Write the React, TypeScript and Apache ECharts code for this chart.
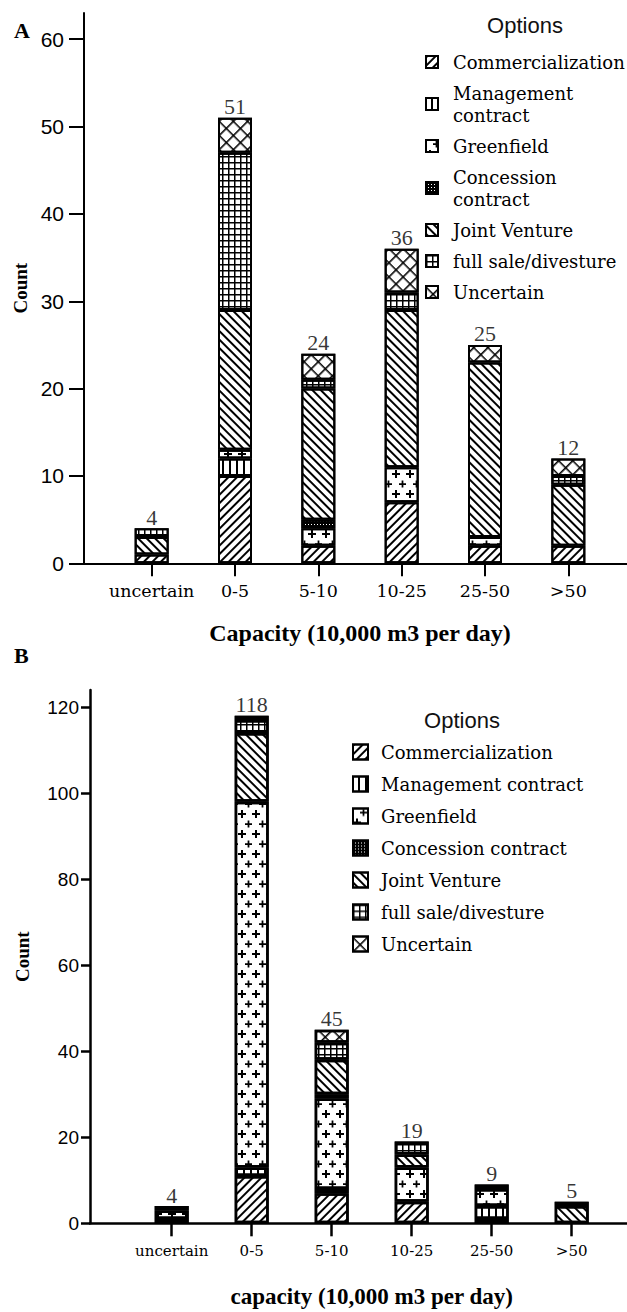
import React, { useEffect, useRef } from 'react';
import * as echarts from 'echarts';

// ---------- data ----------
const categories = ['uncertain', '0-5', '5-10', '10-25', '25-50', '>50'];
const optionNames = [
  'Commercialization',
  'Management contract',
  'Greenfield',
  'Concession contract',
  'Joint Venture',
  'full sale/divesture',
  'Uncertain',
];

// Panel A
const aCommercialization = [1, 10, 2, 7, 2, 2];
const aManagement = [0, 2, 0, 0, 0, 0];
const aGreenfield = [0, 1, 2, 4, 1, 0];
const aConcession = [0, 0, 1, 0, 0, 0];
const aJointVenture = [2, 16, 15, 18, 20, 7];
const aFullSale = [1, 18, 1, 2, 0, 1];
const aUncertain = [0, 4, 3, 5, 2, 2];
const aTotals = [4, 51, 24, 36, 25, 12];
const aYTicks = [0, 10, 20, 30, 40, 50, 60];

// Panel B
const bCommercialization = [1, 11, 7, 5, 1, 0];
const bManagement = [0, 2, 1, 0, 3, 0];
const bGreenfield = [2, 85, 21, 8, 4, 0];
const bConcession = [1, 0, 1, 0, 1, 0];
const bJointVenture = [0, 16, 8, 3, 0, 4];
const bFullSale = [0, 3, 4, 3, 0, 1];
const bUncertain = [0, 1, 3, 0, 0, 0];
const bTotals = [4, 118, 45, 19, 9, 5];
const bYTicks = [0, 20, 40, 60, 80, 100, 120];

// ---------- styles ----------
const SERIF = '"Liberation Serif", "Times New Roman", serif';
const DJ = '"DejaVu Serif", serif';
const SANS = '"Liberation Sans", Arial, sans-serif';
const INK = '#000';

const PLUS = 'path://M3 0H5V3H8V5H5V8H3V5H0V3H3Z';
const GRID6 = 'path://M0 0H6V1.5H0Z M0 0H1.5V6H0Z';
const GRID10 = 'path://M0 0H10V1.6H0Z M0 0H1.6V10H0Z';
const DOTS3 = 'path://M0 0H3V2H0Z M0 0H2V3H0Z';

const decals: any[] = [
  { symbol: 'rect', color: INK, dashArrayX: [1, 0], dashArrayY: [2, 4], rotation: -Math.PI / 4 },
  { symbol: 'rect', color: INK, dashArrayX: [1, 0], dashArrayY: [2, 5], rotation: Math.PI / 2 },
  { symbol: PLUS, color: INK, dashArrayX: [[8, 6], [0, 7, 7, 0]], dashArrayY: [8, 2] },
  { symbol: DOTS3, color: INK, dashArrayX: [3, 0], dashArrayY: [3, 0] },
  { symbol: 'rect', color: INK, dashArrayX: [1, 0], dashArrayY: [2, 4], rotation: Math.PI / 4 },
  { symbol: GRID6, color: INK, dashArrayX: [6, 0], dashArrayY: [6, 0] },
  { symbol: GRID10, color: INK, dashArrayX: [10, 0], dashArrayY: [10, 0], rotation: Math.PI / 4 },
];

function buildOption(cfg: any) {
  const L = cfg.layout;
  const series: any[] = optionNames.map((name, i) => ({
    name,
    type: 'bar',
    stack: 'total',
    xAxisIndex: 0,
    yAxisIndex: 0,
    barWidth: L.barWidth,
    data: cfg.values[i].map((v: number) => (v === 0 ? null : v)),
    itemStyle: { color: '#fff', borderColor: INK, borderWidth: L.border, decal: decals[i] },
    emphasis: { disabled: true },
  }));
  series.push({
    type: 'scatter',
    xAxisIndex: 0,
    yAxisIndex: 0,
    data: cfg.totals,
    symbolSize: 0,
    silent: true,
    z: 10,
    label: { show: true, position: 'top', distance: 0, color: INK, fontFamily: SERIF, fontSize: 22 },
  });

  const gridV = { top: L.top, height: L.height, outerBoundsMode: 'none', containLabel: false };
  return {
    animation: false,
    backgroundColor: 'transparent',
    grid: [
      { left: L.barLeft, width: L.barWidthTotal, ...gridV },
      { left: L.axisX, right: 0, ...gridV },
    ],
    xAxis: [
      {
        gridIndex: 0,
        type: 'category',
        data: categories,
        axisLine: { show: false },
        axisTick: { show: true, alignWithLabel: true, length: 13, lineStyle: { color: INK, width: L.axisW } },
        axisLabel: { interval: 0, margin: L.xLabelMargin, color: INK, fontFamily: DJ, fontSize: L.xLabelSize },
        splitLine: { show: false },
        name: cfg.xTitle,
        nameLocation: 'middle',
        nameGap: L.xNameGap,
        nameTextStyle: { color: INK, fontFamily: SERIF, fontWeight: 'bold', fontSize: L.xNameSize, verticalAlign: 'top' },
      },
      {
        gridIndex: 1,
        type: 'value',
        min: 0,
        max: 1,
        axisLine: { show: true, onZero: false, lineStyle: { color: INK, width: L.axisW } },
        axisTick: { show: false },
        axisLabel: { show: false },
        splitLine: { show: false },
      },
    ],
    yAxis: [
      { gridIndex: 0, type: 'value', min: 0, max: L.yMax, show: false, splitLine: { show: false } },
      {
        gridIndex: 1,
        type: 'value',
        min: 0,
        max: L.yMax,
        interval: cfg.yTicks[1] - cfg.yTicks[0],
        axisLine: { show: true, lineStyle: { color: INK, width: L.axisW } },
        axisTick: { show: true, length: L.yTickLen, customValues: cfg.yTicks, lineStyle: { color: INK, width: L.axisW } },
        axisLabel: { customValues: cfg.yTicks, margin: L.yLabelMargin, color: INK, fontFamily: SANS, fontSize: L.yLabelSize },
        splitLine: { show: false },
        name: 'Count',
        nameLocation: 'middle',
        nameGap: L.yNameGap,
        nameTextStyle: { color: INK, fontFamily: SERIF, fontWeight: 'bold', fontSize: 19 },
      },
    ],
    legend: {
      data: optionNames,
      orient: 'vertical',
      left: L.legendLeft,
      top: L.legendTop,
      padding: 0,
      itemWidth: L.icon,
      itemHeight: L.icon,
      itemGap: L.legendGap,
      icon: 'rect',
      selectedMode: false,
      formatter: cfg.legendFormatter,
      textStyle: { fontFamily: DJ, fontSize: 18, color: INK, lineHeight: 22, padding: [0, 0, 0, L.textPad] },
    },
    graphic: [
      { type: 'text', x: 14, y: L.letterY, style: { text: cfg.letter, font: `bold 22px ${SERIF}`, fill: INK, verticalAlign: 'middle' } },
      { type: 'text', x: L.optX, y: L.optY, style: { text: 'Options', font: `22px ${SANS}`, fill: '#111', align: 'center', verticalAlign: 'middle' } },
    ],
    series,
  };
}

const optA = () =>
  buildOption({
    letter: 'A',
    values: [aCommercialization, aManagement, aGreenfield, aConcession, aJointVenture, aFullSale, aUncertain],
    totals: aTotals,
    yTicks: aYTicks,
    xTitle: 'Capacity (10,000 m3 per day)',
    legendFormatter: (n: string) =>
      n === 'Management contract' ? 'Management\ncontract' : n === 'Concession contract' ? 'Concession\ncontract' : n,
    layout: {
      top: 13, height: 550.3, yMax: 63, barLeft: 110, barWidthTotal: 500, axisX: 84, barWidth: 34, border: 2,
      axisW: 2, xLabelMargin: 19, xLabelSize: 17.5, xNameGap: 58, xNameSize: 24, yTickLen: 15, yLabelMargin: 20, yLabelSize: 21,
      yNameGap: 52, legendLeft: 425, legendTop: 51, icon: 12, legendGap: 9, textPad: 10, letterY: 30, optX: 525, optY: 25,
    },
  });

// panel B is drawn in a box whose top is at page y = 640
const optB = () =>
  buildOption({
    letter: 'B',
    values: [bCommercialization, bManagement, bGreenfield, bConcession, bJointVenture, bFullSale, bUncertain],
    totals: bTotals,
    yTicks: bYTicks,
    xTitle: 'capacity (10,000 m3 per day)',
    legendFormatter: (n: string) => n,
    layout: {
      top: 50, height: 533.3, yMax: 124, barLeft: 131.7, barWidthTotal: 480, axisX: 90, barWidth: 34, border: 2.5,
      axisW: 2.5, xLabelMargin: 20, xLabelSize: 15, xNameGap: 62, xNameSize: 23, yTickLen: 9, yLabelMargin: 11, yLabelSize: 19,
      yNameGap: 58, legendLeft: 352, legendTop: 101, icon: 15, legendGap: 10, textPad: 8, letterY: 15, optX: 462, optY: 80,
    },
  });

export default function App() {
  const refA = useRef<HTMLDivElement>(null);
  const refB = useRef<HTMLDivElement>(null);
  useEffect(() => {
    const ca = echarts.init(refA.current!, undefined, { renderer: 'svg' });
    const cb = echarts.init(refB.current!, undefined, { renderer: 'svg' });
    ca.setOption(optA() as any);
    cb.setOption(optB() as any);
    return () => {
      ca.dispose();
      cb.dispose();
    };
  }, []);
  return (
    <div style={{ position: 'absolute', left: 0, top: 0, width: 627, height: 1312, background: '#fff' }}>
      <div ref={refA} style={{ position: 'absolute', left: 0, top: 0, width: 627, height: 660 }} />
      <div ref={refB} style={{ position: 'absolute', left: 0, top: 640, width: 627, height: 672 }} />
    </div>
  );
}
